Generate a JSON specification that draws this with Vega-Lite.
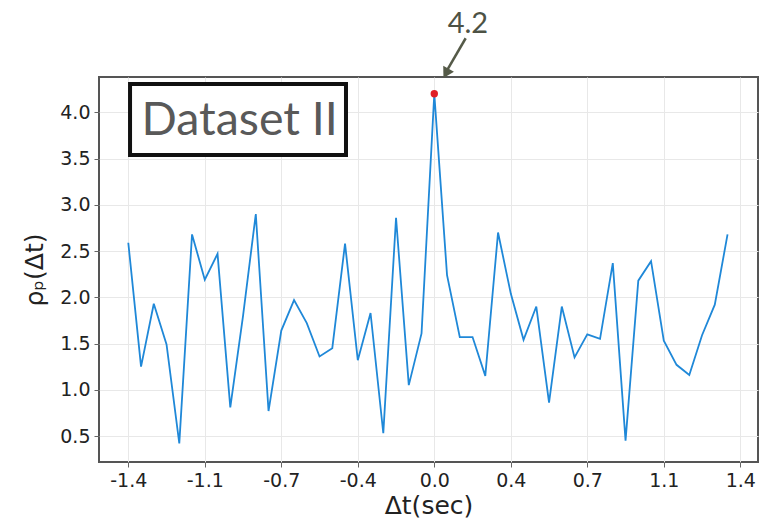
{
  "$schema": "https://vega.github.io/schema/vega-lite/v6.json",
  "width": 659,
  "height": 385,
  "autosize": {"type": "none"},
  "padding": {"left": 99, "top": 77, "right": 9, "bottom": 62},
  "background": "white",
  "config": {
    "view": {"stroke": "#555555", "strokeWidth": 2},
    "axis": {
      "labelFont": "DejaVu Sans",
      "labelFontSize": 19,
      "labelColor": "#222222",
      "titleFont": "DejaVu Sans",
      "titleFontWeight": "normal",
      "titleColor": "#222222",
      "domain": false,
      "tickColor": "#666666",
      "tickSize": 5,
      "gridColor": "#e8e8e8",
      "gridWidth": 1
    }
  },
  "datasets": {
    "series": [
      {"t": -1.4, "rho": 2.59},
      {"t": -1.341667, "rho": 1.25},
      {"t": -1.283333, "rho": 1.93},
      {"t": -1.225, "rho": 1.49},
      {"t": -1.166667, "rho": 0.42},
      {"t": -1.108333, "rho": 2.68},
      {"t": -1.05, "rho": 2.19},
      {"t": -0.991667, "rho": 2.47},
      {"t": -0.933333, "rho": 0.81},
      {"t": -0.875, "rho": 1.8},
      {"t": -0.816667, "rho": 2.9},
      {"t": -0.758333, "rho": 0.77},
      {"t": -0.7, "rho": 1.64},
      {"t": -0.641667, "rho": 1.97},
      {"t": -0.583333, "rho": 1.72},
      {"t": -0.525, "rho": 1.36},
      {"t": -0.466667, "rho": 1.45},
      {"t": -0.408333, "rho": 2.58},
      {"t": -0.35, "rho": 1.32},
      {"t": -0.291667, "rho": 1.83},
      {"t": -0.233333, "rho": 0.53},
      {"t": -0.175, "rho": 2.86},
      {"t": -0.116667, "rho": 1.05},
      {"t": -0.058333, "rho": 1.61},
      {"t": 0.0, "rho": 4.2},
      {"t": 0.058333, "rho": 2.24},
      {"t": 0.116667, "rho": 1.57},
      {"t": 0.175, "rho": 1.57},
      {"t": 0.233333, "rho": 1.15},
      {"t": 0.291667, "rho": 2.7},
      {"t": 0.35, "rho": 2.04},
      {"t": 0.408333, "rho": 1.54},
      {"t": 0.466667, "rho": 1.9},
      {"t": 0.525, "rho": 0.86},
      {"t": 0.583333, "rho": 1.9},
      {"t": 0.641667, "rho": 1.35},
      {"t": 0.7, "rho": 1.6},
      {"t": 0.758333, "rho": 1.55},
      {"t": 0.816667, "rho": 2.37},
      {"t": 0.875, "rho": 0.45},
      {"t": 0.933333, "rho": 2.18},
      {"t": 0.991667, "rho": 2.39},
      {"t": 1.05, "rho": 1.53},
      {"t": 1.108333, "rho": 1.27},
      {"t": 1.166667, "rho": 1.16},
      {"t": 1.225, "rho": 1.59},
      {"t": 1.283333, "rho": 1.92},
      {"t": 1.341667, "rho": 2.68}
    ]
  },
  "layer": [
    {
      "data": {"name": "series"},
      "mark": {"type": "line", "color": "#1f88d8", "strokeWidth": 1.8},
      "encoding": {
        "x": {
          "field": "t", "type": "quantitative",
          "scale": {"domain": [-1.534, 1.481], "nice": false, "zero": false},
          "axis": {
            "values": [-1.4, -1.05, -0.7, -0.35, 0, 0.35, 0.7, 1.05, 1.4],
            "labelExpr": "datum.value < -1.2 ? '-1.4' : datum.value < -0.9 ? '-1.1' : datum.value < -0.5 ? '-0.7' : datum.value < -0.2 ? '-0.4' : datum.value < 0.2 ? '0.0' : datum.value < 0.5 ? '0.4' : datum.value < 0.9 ? '0.7' : datum.value < 1.2 ? '1.1' : '1.4'",
            "title": "Δt(sec)",
            "titleFontSize": 25,
            "titlePadding": 3,
            "labelPadding": 4
          }
        },
        "y": {
          "field": "rho", "type": "quantitative",
          "scale": {"domain": [0.219, 4.382], "nice": false, "zero": false},
          "axis": {
            "values": [0.5, 1.0, 1.5, 2.0, 2.5, 3.0, 3.5, 4.0],
            "format": ".1f",
            "title": "ρₚ(Δt)",
            "titleFontSize": 25,
            "titlePadding": 12,
            "labelPadding": 4
          }
        }
      }
    },
    {
      "data": {"values": [{"t": 0.0, "rho": 4.2}]},
      "mark": {"type": "point", "filled": true, "color": "#e01f26", "size": 55, "opacity": 1},
      "encoding": {
        "x": {"field": "t", "type": "quantitative"},
        "y": {"field": "rho", "type": "quantitative"}
      }
    },
    {
      "data": {"values": [{"x1": -1.392, "x2": -0.404, "y1": 4.306, "y2": 3.538}]},
      "mark": {"type": "rect", "fill": "white", "stroke": "#111111", "strokeWidth": 4},
      "encoding": {
        "x": {"field": "x1", "type": "quantitative"},
        "x2": {"field": "x2"},
        "y": {"field": "y1", "type": "quantitative"},
        "y2": {"field": "y2"}
      }
    },
    {
      "data": {"values": [{"t": -1.34, "rho": 3.754, "label": "Dataset II"}]},
      "mark": {"type": "text", "align": "left", "baseline": "alphabetic", "font": "Lato", "fontSize": 46.5, "color": "#595959"},
      "encoding": {
        "x": {"field": "t", "type": "quantitative"},
        "y": {"field": "rho", "type": "quantitative"},
        "text": {"field": "label"}
      }
    },
    {
      "data": {"values": [{"t": 0.0613, "rho": 4.855, "label": "4.2"}]},
      "mark": {"type": "text", "align": "left", "baseline": "alphabetic", "font": "Lato", "fontSize": 29, "color": "#4d5245"},
      "encoding": {
        "x": {"field": "t", "type": "quantitative"},
        "y": {"field": "rho", "type": "quantitative"},
        "text": {"field": "label"}
      }
    },
    {
      "data": {"values": [{"x1": 0.1436, "y1": 4.801, "x2": 0.0535, "y2": 4.436}]},
      "mark": {"type": "rule", "color": "#555a48", "strokeWidth": 2.5},
      "encoding": {
        "x": {"field": "x1", "type": "quantitative"},
        "x2": {"field": "x2"},
        "y": {"field": "y1", "type": "quantitative"},
        "y2": {"field": "y2"}
      }
    },
    {
      "data": {"values": [{"t": 0.0576, "rho": 4.437}]},
      "mark": {"type": "point", "shape": "triangle", "filled": true, "color": "#555a48", "size": 150, "angle": 209, "opacity": 1},
      "encoding": {
        "x": {"field": "t", "type": "quantitative"},
        "y": {"field": "rho", "type": "quantitative"}
      }
    }
  ]
}
